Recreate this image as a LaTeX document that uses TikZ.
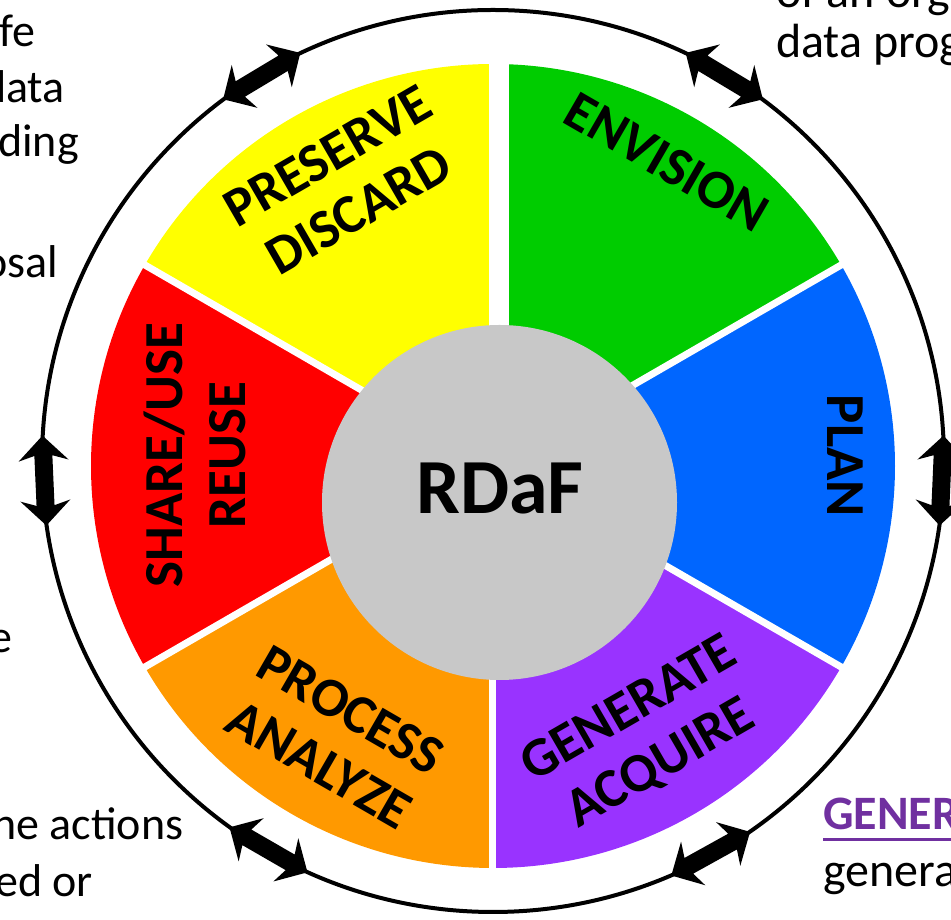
\documentclass[tikz,border=0pt]{standalone}
\usepackage{fontspec}
\setmainfont{Carlito}
\definecolor{cgreen}{HTML}{00CC00}
\definecolor{cyellow}{HTML}{FFFF00}
\definecolor{cred}{HTML}{FF0000}
\definecolor{corange}{HTML}{FF9900}
\definecolor{cpurple}{HTML}{9933FF}
\definecolor{cblue}{HTML}{0066FF}
\definecolor{cgray}{HTML}{C8C8C8}
\definecolor{txtpurple}{HTML}{7030A0}
\begin{document}
\begin{tikzpicture}[x=1pt,y=1pt,
  seclabel/.style={font=\fontsize{55}{63}\selectfont\bfseries, align=center, inner sep=0pt},
  sidetext/.style={font=\fontsize{46}{54}\selectfont, anchor=base west, inner sep=0pt},
  righttext/.style={font=\fontsize{48}{56}\selectfont, anchor=base west, inner sep=0pt},
  ringarrow/.style={fill=black}]
\useasboundingbox (0,0) rectangle (951,920);
\clip (0,0) rectangle (951,920);
\coordinate (C) at (493,454);
\coordinate (RC) at (493,459);
% sectors
\foreach \a/\b/\c in {30/90/cgreen, 90/150/cyellow, 150/210/cred, 210/270/corange, 270/330/cpurple, -30/30/cblue}
  \fill[\c] (C) -- ++(\a:402) arc[start angle=\a, end angle=\b, radius=402] -- cycle;
\foreach \a in {30,150,210,330}
  \draw[white, line width=7pt] (C) -- ++(\a:415);
\fill[white] (489,454) rectangle (509,875);
\fill[white] (489,454) rectangle (496,40);
% hub
\fill[cgray] (499.5,417.5) circle[radius=177.5];
\node[font=\fontsize{78}{80}\selectfont\bfseries, inner sep=0pt] (rdaf) at (500,431) {RDaF};
% ring
\draw[line width=4pt] (RC) circle[radius=451];
\foreach \t in {121, 59, 182.5, 240, 299, -2.5}
  \fill[ringarrow, shift={(493,459)}, shift={(\t:449)}, rotate=\t-90]
    (45,0) -- (20,25) -- (25,9) -- (-25,9) -- (-20,25) -- (-45,0)
    -- (-20,-25) -- (-25,-9) -- (25,-9) -- (20,-25) -- cycle;
% sector labels
\node[seclabel, rotate=30] (preserve) at (343,737) {PRESERVE\\DISCARD};
\node[seclabel, rotate=-30] (envision) at (667,758) {ENVISION};
\node[seclabel, rotate=-90] (plan) at (845,464) {PLAN};
\node[seclabel, rotate=30] (generate) at (645,183) {GENERATE\\ACQUIRE};
\node[seclabel, rotate=-30] (process) at (335,183) {PROCESS\\ANALYZE};
\node[seclabel, rotate=90] (share) at (195,465) {SHARE/USE\\REUSE};
% side texts
\node[sidetext] (t1) at (-1,873) {fe};
\node[sidetext] (t2) at (-18,817) {data};
\node[sidetext] (t3) at (-2,763) {ding};
\node[sidetext] (t4) at (-17,642) {osal};
\node[sidetext] (t5) at (-11,267) {e};
\node[sidetext] (t6) at (-8,80) {he actions};
\node[sidetext] (t7) at (-5,23) {ed or};
\node[righttext] (t8) at (776,912) {of an org};
\node[righttext] (t9) at (776,862) {data prog};
\node[righttext, font=\fontsize{48}{56}\selectfont\bfseries, text=txtpurple] (t10) at (823,90) {GENER};
\draw[txtpurple, line width=3pt] (823,80) -- (951,80);
\node[righttext] (t11) at (823,33) {genera};
\end{tikzpicture}
\end{document}
